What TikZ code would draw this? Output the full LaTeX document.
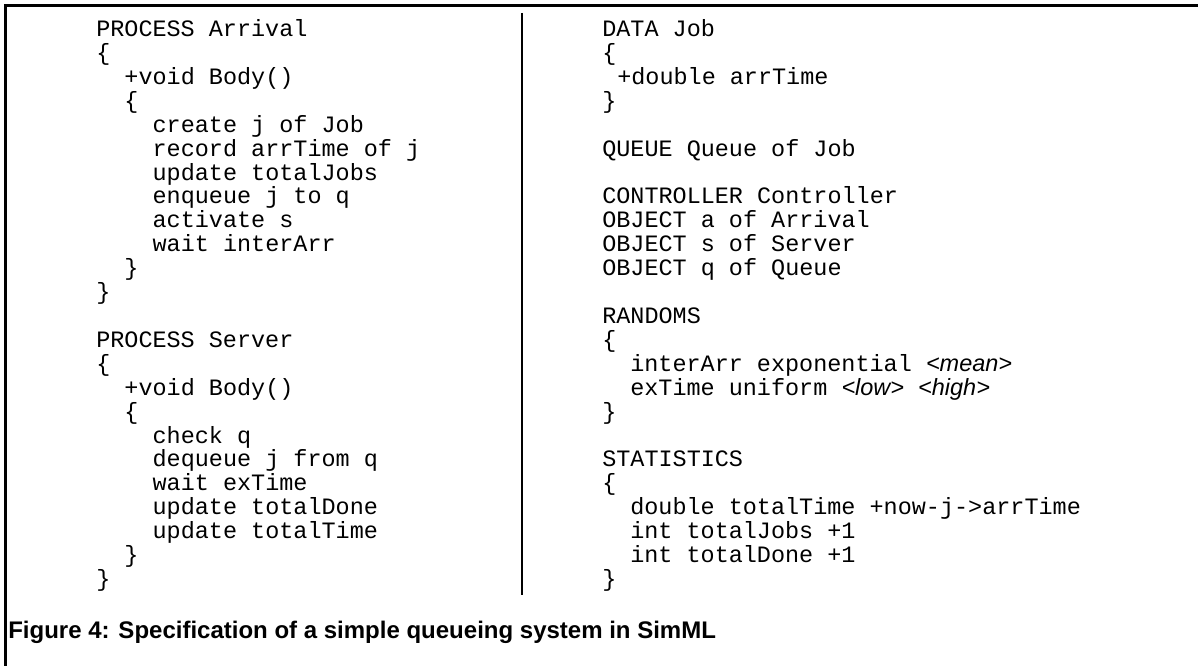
\documentclass[tikz,border=0pt]{standalone}
\usepackage{fontspec}
\newfontfamily\codefont{Liberation Mono}
\newfontfamily\capfont{Liberation Sans}
\newfontfamily\argfont{Liberation Sans}
\newcommand{\argtext}[1]{{\argfont\itshape #1}}
\begin{document}
\begin{tikzpicture}[x=0.75pt,y=-0.75pt,
  code/.style={font=\codefont\fontsize{17.6pt}{17.6pt}\selectfont, inner sep=0pt, anchor=base west},
  captext/.style={font=\capfont\bfseries\fontsize{18pt}{18pt}\selectfont, inner sep=0pt, anchor=base west},
  frame/.style={line width=2.25pt, line join=miter},
  divider/.style={line width=1.9pt}]
\useasboundingbox (0,0) rectangle (1198,666);
\draw[frame] (1198,5.3) -- (5,5.3) -- (5,666);
\draw[divider] (522,13) -- (522,595);
% left column
\node[code] (l1)  at (96,36.7)    {PROCESS Arrival};
\node[code] (l2)  at (96,60.6)    {\{};
\node[code] (l3)  at (124.2,84.5) {+void Body()};
\node[code] (l4)  at (124.2,108.4){\{};
\node[code] (l5)  at (152.4,132.3){create j of Job};
\node[code] (l6)  at (152.4,156.2){record arrTime of j};
\node[code] (l7)  at (152.4,180.1){update totalJobs};
\node[code] (l8)  at (152.4,204.0){enqueue j to q};
\node[code] (l9)  at (152.4,227.9){activate s};
\node[code] (l10) at (152.4,251.8){wait interArr};
\node[code] (l11) at (124.2,275.7){\}};
\node[code] (l12) at (96,299.6)   {\}};
\node[code] (l14) at (96,347.4)   {PROCESS Server};
\node[code] (l15) at (96,371.3)   {\{};
\node[code] (l16) at (124.2,395.2){+void Body()};
\node[code] (l17) at (124.2,419.1){\{};
\node[code] (l18) at (152.4,443.0){check q};
\node[code] (l19) at (152.4,466.9){dequeue j from q};
\node[code] (l20) at (152.4,490.8){wait exTime};
\node[code] (l21) at (152.4,514.7){update totalDone};
\node[code] (l22) at (152.4,538.6){update totalTime};
\node[code] (l23) at (124.2,562.5){\}};
\node[code] (l24) at (96,586.4)   {\}};
% right column
\node[code] (r1)  at (602,36.7)  {DATA Job};
\node[code] (r2)  at (602,60.6)  {\{};
\node[code] (r3)  at (617,84.5)  {+double arrTime};
\node[code] (r4)  at (602,108.4) {\}};
\node[code] (r6)  at (602,156.2) {QUEUE Queue of Job};
\node[code] (r8)  at (602,204.0) {CONTROLLER Controller};
\node[code] (r9)  at (602,227.9) {OBJECT a of Arrival};
\node[code] (r10) at (602,251.8) {OBJECT s of Server};
\node[code] (r11) at (602,275.7) {OBJECT q of Queue};
\node[code] (r13) at (602,323.5) {RANDOMS};
\node[code] (r14) at (602,347.4) {\{};
\node[code] (r15) at (630,371.3) {interArr exponential \argtext{<mean>}};
\node[code] (r16) at (630,395.2) {exTime uniform \argtext{<low>} \argtext{<high>}};
\node[code] (r17) at (602,419.1) {\}};
\node[code] (r19) at (602,466.9) {STATISTICS};
\node[code] (r20) at (602,490.8) {\{};
\node[code] (r21) at (630,514.7) {double totalTime +now-j->arrTime};
\node[code] (r22) at (630,538.6) {int totalJobs +1};
\node[code] (r23) at (630,562.5) {int totalDone +1};
\node[code] (r24) at (602,586.4) {\}};
% caption
\node[captext] (cap) at (8,638) {Figure 4: Specification of a simple queueing system in SimML};
\end{tikzpicture}
\end{document}
